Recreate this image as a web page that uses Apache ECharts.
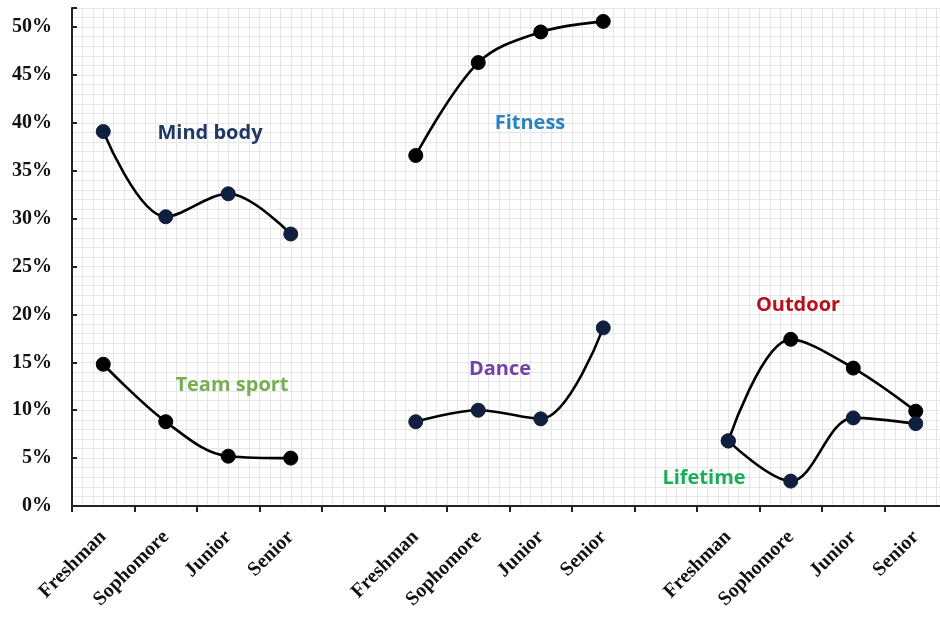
<!DOCTYPE html>
<html>
<head>
<meta charset="utf-8">
<script src="https://cdn.jsdelivr.net/npm/echarts@6/dist/echarts.min.js"></script>
<style>html,body{margin:0;padding:0;background:#fff;overflow:hidden}#c{width:947px;height:618px}</style>
</head>
<body>
<div id="c"></div>
<script>
// Categories: three groups of class years separated by empty slots
var years = ['Freshman', 'Sophomore', 'Junior', 'Senior'];
var categories = years.concat([''], years, [''], years);
// Group offsets into the category list
var groupStart = [0, 5, 10];

// Values in percent
var mindBody  = [39.1, 30.2, 32.6, 28.4];
var teamSport = [14.8, 8.8, 5.2, 5.0];
var fitness   = [36.6, 46.3, 49.5, 50.6];
var dance     = [8.8, 10.0, 9.1, 18.6];
var outdoor   = [6.8, 17.4, 14.4, 9.9];
var lifetime  = [6.8, 2.6, 9.2, 8.6];

// Y tick labels
var yTicks = [0, 5, 10, 15, 20, 25, 30, 35, 40, 45, 50];

function place(vals, group) {
  var arr = categories.map(function () { return null; });
  vals.forEach(function (v, i) { arr[groupStart[group] + i] = v; });
  return arr;
}

var NAVY = '#0f1f3d';
var BLACK = '#000000';
function mk(name, vals, group, markerColor) {
  return {
    name: name, type: 'line', smooth: 0.35, connectNulls: false,
    data: place(vals, group),
    symbol: 'circle', symbolSize: 14,
    itemStyle: { color: markerColor, borderColor: markerColor },
    lineStyle: { color: '#000', width: 2.6 },
    z: 5
  };
}

function label(text, x, y, color) {
  return { type: 'text', x: x, y: y, z: 10, silent: true,
    style: { text: text, fill: color, stroke: null, lineWidth: 0,
      font: 'bold 20px "Open Sans"', textAlign: 'center', textVerticalAlign: 'middle' } };
}

var chart = echarts.init(document.getElementById('c'), null, { renderer: 'canvas' });
var gridLine = '#e6e6e6';
chart.setOption({
  animation: false,
  backgroundColor: '#ffffff',
  grid: { left: 72, right: 0, top: 8, bottom: 112, containLabel: false },
  xAxis: [{
    type: 'category', data: categories, boundaryGap: true,
    axisLine: { lineStyle: { color: '#222', width: 2 } },
    axisTick: { show: true, interval: 0, length: 6, lineStyle: { color: '#222', width: 2 } },
    axisLabel: {
      interval: 0, rotate: 45, margin: 28,
      fontFamily: 'Liberation Serif', fontWeight: 'bold', fontSize: 20, color: '#111'
    },
    splitLine: { show: false }
  }, {
    type: 'value', min: 0, max: 14, interval: 1, position: 'bottom',
    axisLine: { show: false }, axisTick: { show: false }, axisLabel: { show: false },
    splitLine: { show: true, lineStyle: { color: gridLine, width: 1 } },
    minorTick: { show: false, splitNumber: 6 },
    minorSplitLine: { show: true, lineStyle: { color: gridLine, width: 1 } }
  }],
  yAxis: {
    type: 'value', min: 0, max: 52, interval: 5,
    axisLine: { show: true, lineStyle: { color: '#222', width: 2 } },
    axisTick: { show: true, inside: true, length: 5, lineStyle: { color: '#222', width: 2 } },
    axisLabel: {
      margin: 20,
      fontFamily: 'Liberation Serif', fontWeight: 'bold', fontSize: 20, color: '#111',
      formatter: function (v) { return yTicks.indexOf(v) >= 0 ? v + '%' : ''; }
    },
    splitLine: { show: true, lineStyle: { color: gridLine, width: 1 } },
    minorTick: { show: false, splitNumber: 5 },
    minorSplitLine: { show: true, lineStyle: { color: gridLine, width: 1 } }
  },
  series: [
    mk('Mind body', mindBody, 0, NAVY),
    mk('Team sport', teamSport, 0, BLACK),
    mk('Fitness', fitness, 1, BLACK),
    mk('Dance', dance, 1, NAVY),
    mk('Outdoor', outdoor, 2, BLACK),
    mk('Lifetime', lifetime, 2, NAVY)
  ],
  graphic: [
    label('Mind body', 210, 133, '#1f3864'),
    label('Fitness', 530, 123, '#2b84c0'),
    label('Team sport', 232, 385, '#76ae52'),
    label('Dance', 500, 369, '#7540a6'),
    label('Outdoor', 798, 305, '#b5121b'),
    label('Lifetime', 704, 478, '#1aae5a')
  ]
});
</script>
</body>
</html>
